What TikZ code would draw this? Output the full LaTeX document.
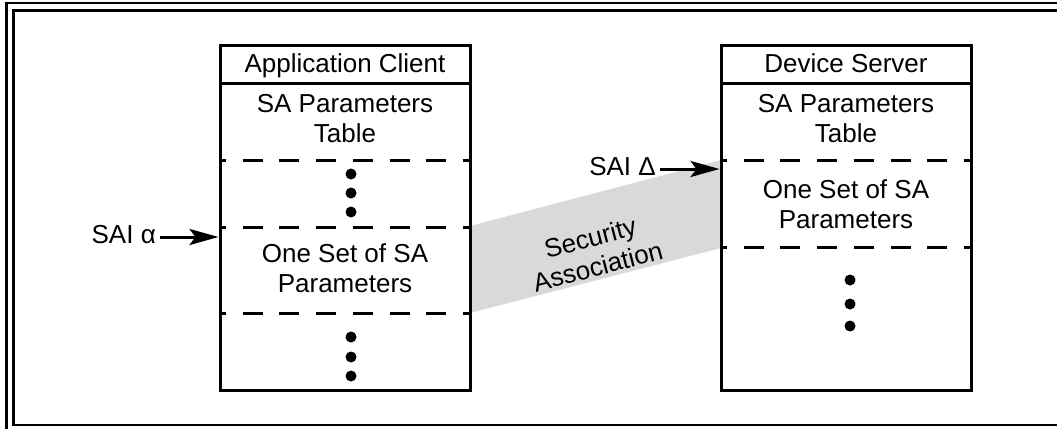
\documentclass[tikz,border=0pt]{standalone}
\usepackage{fontspec}
\setmainfont{Liberation Sans}
\usetikzlibrary{arrows.meta}
\definecolor{bandgray}{RGB}{217,217,217}
\begin{document}
\begin{tikzpicture}[x=1pt,y=-1pt,
  boxline/.style={line width=3pt},
  panel/.style={draw, line width=3pt, minimum width=250pt, minimum height=345pt, inner sep=0pt},
  dashline/.style={line width=3pt, dash pattern=on 20pt off 16.7pt, dash phase=14pt},
  frameline/.style={line width=2.5pt},
  lbl/.style={font=\fontsize{26}{30}\selectfont, inner sep=0pt, align=center},
  arr/.style={line width=3pt, -{Stealth[length=29pt,width=16pt,inset=6pt]}},
  dot/.style={fill=black}
]
\useasboundingbox (0,0) rectangle (1057,429);
% frame
\draw[frameline] (6.5,429) -- (6.5,3) -- (1057,3);
\draw[frameline] (1057,10.7) -- (13.5,10.7) -- (13.5,425) -- (1057,425);
% security association band
\fill[bandgray] (470,226) -- (721,160) -- (721,248) -- (470,313) -- cycle;
% panels
\node[panel] (ac) at (345,217.5) {};
\node[panel] (ds) at (846,217.5) {};
\draw[boxline] (220,83) -- (470,83);
\draw[boxline] (721,83) -- (971,83);
\draw[dashline] (220,160) -- (470,160);
\draw[dashline] (220,227) -- (470,227);
\draw[dashline] (220,313) -- (470,313);
\draw[dashline] (721,160) -- (971,160);
\draw[dashline] (721,247) -- (971,247);
% texts
\node[lbl, anchor=base] (achead) at (345,72) {Application Client};
\node[lbl] (actable) at (345,119) {SA Parameters\\Table};
\node[lbl] (acset) at (345,268.5) {One Set of SA\\Parameters};
\node[lbl, anchor=base] (dshead) at (846,72) {Device Server};
\node[lbl] (dstable) at (846,119) {SA Parameters\\Table};
\node[lbl] (dsset) at (846,204.5) {One Set of SA\\Parameters};
\node[lbl, rotate=14.7] (sa) at (594,252) {Security\\Association};
% dots
\foreach \y in {174,193,212} \fill[dot] (351,\y) circle (5.5pt);
\foreach \y in {337,357,376} \fill[dot] (351,\y) circle (5.5pt);
\foreach \y in {280,304,326} \fill[dot] (850,\y) circle (5.5pt);
% SAI arrows
\node[lbl, anchor=base east] (saiA) at (156,243) {SAI α};
\coordinate (tipA) at (218.5,237);
\draw[arr, shorten <=4pt] (saiA.east |- tipA) -- (tipA);
\node[lbl, anchor=base east] (saiD) at (656,175) {SAI Δ};
\coordinate (tipD) at (719.5,169);
\draw[arr, shorten <=4pt] (saiD.east |- tipD) -- (tipD);
\end{tikzpicture}
\end{document}
